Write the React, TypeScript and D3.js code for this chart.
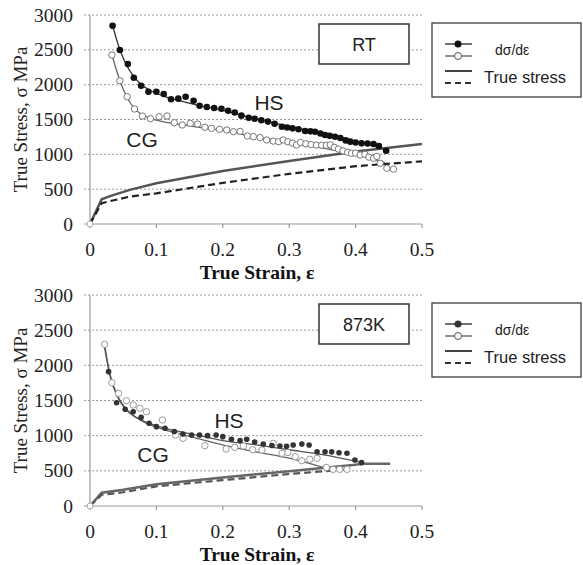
import React from "react";
import * as d3 from "d3";

// ---------- DATA ----------
const xTicks = [0, 0.1, 0.2, 0.3, 0.4, 0.5];
const yTicks = [0, 500, 1000, 1500, 2000, 2500, 3000];
const xTitle = "True Strain, ε";
const yTitle = "True Stress, σ MPa";
const legendLabels = ["dσ/dε", "True stress"];

// RT panel
const rtHsRate: [number, number][] = [
  [0.034, 2846], [0.045, 2497], [0.057, 2296], [0.066, 2100], [0.077, 1985], [0.088, 1899],
  [0.1, 1899], [0.111, 1866], [0.122, 1790], [0.133, 1799], [0.144, 1827], [0.156, 1770],
  [0.165, 1698], [0.176, 1679], [0.187, 1665], [0.198, 1655], [0.208, 1626], [0.218, 1600],
  [0.228, 1555], [0.239, 1526], [0.248, 1511], [0.258, 1490], [0.268, 1470], [0.278, 1440],
  [0.289, 1397], [0.297, 1385], [0.305, 1373], [0.314, 1360], [0.324, 1335], [0.332, 1330],
  [0.339, 1325], [0.347, 1300], [0.354, 1278], [0.361, 1265], [0.369, 1253], [0.377, 1235],
  [0.385, 1200], [0.392, 1182], [0.4, 1170], [0.409, 1158], [0.418, 1155], [0.427, 1148],
  [0.435, 1120], [0.446, 1052],
];
const rtCgRate: [number, number][] = [
  [0.033, 2426], [0.045, 2057], [0.056, 1827], [0.067, 1651], [0.079, 1550], [0.091, 1512],
  [0.104, 1540], [0.116, 1550], [0.127, 1454], [0.139, 1421], [0.151, 1445], [0.162, 1435],
  [0.173, 1388], [0.183, 1373], [0.195, 1359], [0.206, 1349], [0.216, 1325], [0.226, 1330],
  [0.237, 1263], [0.246, 1253], [0.256, 1240], [0.266, 1206], [0.276, 1190], [0.284, 1182],
  [0.291, 1206], [0.298, 1180], [0.305, 1160], [0.311, 1134], [0.317, 1170], [0.325, 1150],
  [0.333, 1140], [0.341, 1134], [0.349, 1130], [0.356, 1130], [0.362, 1136], [0.368, 1100],
  [0.374, 1076], [0.381, 1050], [0.388, 1030], [0.394, 1015], [0.4, 1017], [0.407, 990],
  [0.414, 1000], [0.42, 960], [0.427, 943], [0.432, 970], [0.437, 871], [0.447, 800],
  [0.457, 787],
];
const rtHsFit: [number, number][] = [
  [0.034, 2850], [0.045, 2500], [0.055, 2280], [0.065, 2130], [0.075, 2020], [0.09, 1920],
  [0.11, 1840], [0.13, 1780], [0.16, 1710], [0.2, 1630], [0.25, 1510], [0.3, 1400],
  [0.35, 1300], [0.4, 1190], [0.445, 1070],
];
const rtCgFit: [number, number][] = [
  [0.033, 2430], [0.045, 2060], [0.055, 1830], [0.065, 1680], [0.075, 1590], [0.09, 1520],
  [0.1, 1490], [0.15, 1410], [0.2, 1340], [0.25, 1250], [0.3, 1170], [0.35, 1090],
  [0.4, 1000], [0.444, 880],
];
const rtHsStress: [number, number][] = [
  [0, 0], [0.0176, 355], [0.03, 400], [0.06, 490], [0.1, 585], [0.2, 760], [0.3, 905],
  [0.4, 1040], [0.5, 1148],
];
const rtCgStress: [number, number][] = [
  [0, 0], [0.0176, 300], [0.06, 394], [0.1, 440], [0.2, 590], [0.3, 720], [0.4, 830],
  [0.5, 900],
];

// 873K panel
const hkHsRate: [number, number][] = [
  [0.028, 1910], [0.04, 1469], [0.053, 1375], [0.065, 1341], [0.077, 1260], [0.089, 1176],
  [0.1, 1128], [0.113, 1105], [0.127, 1060], [0.14, 1024], [0.153, 1010], [0.165, 1010],
  [0.177, 1000], [0.19, 1010], [0.2, 986], [0.213, 950], [0.226, 929], [0.236, 949],
  [0.248, 910], [0.261, 882], [0.274, 860], [0.286, 853], [0.296, 850], [0.306, 867],
  [0.319, 882], [0.33, 867], [0.342, 772], [0.354, 772], [0.364, 770], [0.375, 758],
  [0.387, 749], [0.399, 654], [0.409, 616],
];
const hkCgRate: [number, number][] = [
  [0.022, 2299], [0.033, 1754], [0.043, 1602], [0.055, 1497], [0.065, 1436], [0.075, 1389],
  [0.085, 1341], [0.109, 1223], [0.129, 1010], [0.14, 963], [0.173, 858], [0.205, 811],
  [0.218, 834], [0.231, 853], [0.245, 800], [0.259, 796], [0.276, 891], [0.289, 749],
  [0.298, 760], [0.309, 701], [0.319, 644], [0.331, 664], [0.342, 678], [0.356, 549],
  [0.366, 521], [0.376, 521], [0.387, 521],
];
const hkHsFit: [number, number][] = [
  [0.022, 2250], [0.03, 1850], [0.04, 1580], [0.05, 1420], [0.06, 1320], [0.08, 1210],
  [0.1, 1140], [0.15, 1030], [0.2, 930], [0.25, 870], [0.3, 800], [0.35, 730], [0.41, 616],
];
const hkCgFit: [number, number][] = [
  [0.022, 2300], [0.03, 1880], [0.04, 1600], [0.05, 1430], [0.06, 1330], [0.08, 1200],
  [0.1, 1120], [0.15, 990], [0.2, 870], [0.25, 770], [0.3, 680], [0.351, 549],
];
const hkHsStress: [number, number][] = [
  [0, 0], [0.0176, 190], [0.05, 230], [0.1, 310], [0.2, 405], [0.3, 495], [0.35, 540],
  [0.4, 585], [0.41, 600], [0.452, 600],
];
const hkCgStress: [number, number][] = [
  [0, 0], [0.0176, 160], [0.05, 195], [0.1, 280], [0.2, 368], [0.3, 455], [0.35, 492],
  [0.387, 520],
];

// ---------- CHART ----------
const SERIF = "'Liberation Serif', 'Times New Roman', serif";
const SANS = "'Liberation Sans', Arial, sans-serif";

type PanelProps = {
  top: number;
  bottom: number;
  label: string;
  hsRate: [number, number][];
  cgRate: [number, number][];
  hsFit: [number, number][];
  cgFit: [number, number][];
  hsStress: [number, number][];
  cgStress: [number, number][];
  hsPos: [number, number];
  cgPos: [number, number];
  dark: boolean;
};

function Panel(p: PanelProps) {
  const x = d3.scaleLinear().domain([0, 0.5]).range([90, 422]);
  const y = d3.scaleLinear().domain([0, 3000]).range([p.bottom, p.top]);
  const curve = d3.line<[number, number]>().x((d) => x(d[0])).y((d) => y(d[1])).curve(d3.curveMonotoneX);
  const lin = d3.line<[number, number]>().x((d) => x(d[0])).y((d) => y(d[1]));
  const fitHsColor = p.dark ? "#333" : "#555";
  const fitCgColor = "#666";
  const solidColor = p.dark ? "#555" : "#666";
  const dashColor = p.dark ? "#222" : "#555";
  const dotFill = p.dark ? "#111" : "#333";
  const openStroke = p.dark ? "#777" : "#999";
  const top = p.top;
  const legTop = top + 8;
  return (
    <g>
      {yTicks.filter((t) => t > 0).map((t) => (
        <line key={"g" + t} x1={84} x2={422} y1={y(t)} y2={y(t)} stroke="#999" strokeWidth={1} strokeDasharray="2,2" />
      ))}
      <line x1={90} x2={90} y1={top} y2={p.bottom} stroke="#999" strokeWidth={1.2} />
      <line x1={84} x2={422} y1={p.bottom} y2={p.bottom} stroke="#999" strokeWidth={1.2} />
      {xTicks.map((t) => (
        <line key={"xt" + t} x1={x(t)} x2={x(t)} y1={p.bottom} y2={p.bottom + 4} stroke="#999" strokeWidth={1.2} />
      ))}
      {yTicks.map((t) => (
        <text key={"yl" + t} x={73} y={y(t) + 6.5} textAnchor="end" fontFamily={SERIF} fontSize={19.5} fill="#222">
          {t}
        </text>
      ))}
      {xTicks.map((t) => (
        <text key={"xl" + t} x={x(t)} y={p.bottom + 32} textAnchor="middle" fontFamily={SERIF} fontSize={19.5} fill="#222">
          {t}
        </text>
      ))}
      <text
        transform={`translate(27,${(top + p.bottom) / 2}) rotate(-90)`}
        textAnchor="middle"
        fontFamily={SERIF}
        fontSize={19}
        fill="#222"
      >
        {yTitle}
      </text>
      <text x={257} y={p.bottom + 55} textAnchor="middle" fontFamily={SERIF} fontSize={19.5} fontWeight="bold" fill="#111">
        {xTitle}
      </text>

      {/* true stress */}
      <path d={lin(p.hsStress) ?? ""} fill="none" stroke={solidColor} strokeWidth={2.5} />
      <path d={lin(p.cgStress) ?? ""} fill="none" stroke={dashColor} strokeWidth={2.2} strokeDasharray="7,4" />
      <circle cx={x(0)} cy={y(0)} r={3} fill="#fff" stroke="#aaa" strokeWidth={1} />

      {/* fits */}
      <path d={curve(p.cgFit) ?? ""} fill="none" stroke={fitCgColor} strokeWidth={1.3} />
      <path d={curve(p.hsFit) ?? ""} fill="none" stroke={fitHsColor} strokeWidth={1.3} />

      {/* rates */}
      {p.cgRate.map((d, i) => (
        <circle key={"c" + i} cx={x(d[0])} cy={y(d[1])} r={3.2} fill="#fff" stroke={openStroke} strokeWidth={1} />
      ))}
      {p.hsRate.map((d, i) => (
        <circle key={"h" + i} cx={x(d[0])} cy={y(d[1])} r={p.dark ? 3.3 : 2.8} fill={dotFill} />
      ))}

      <text x={p.hsPos[0]} y={p.hsPos[1]} textAnchor="middle" fontFamily={SANS} fontSize={21} fill="#222">HS</text>
      <text x={p.cgPos[0]} y={p.cgPos[1]} textAnchor="middle" fontFamily={SANS} fontSize={21} fill="#222">CG</text>

      {/* label box */}
      <rect x={319} y={top + 9} width={90} height={40} fill="#fff" stroke="#333" strokeWidth={1.5} />
      <text x={364} y={top + 36} textAnchor="middle" fontFamily={SANS} fontSize={18} fill="#222">{p.label}</text>

      {/* legend */}
      <rect x={432} y={legTop} width={149} height={74} fill="#fff" stroke="#555" strokeWidth={1.5} />
      <line x1={445} x2={472} y1={legTop + 21} y2={legTop + 21} stroke="#222" strokeWidth={1.3} />
      <circle cx={458} cy={legTop + 21} r={3.5} fill={dotFill} />
      <line x1={445} x2={472} y1={legTop + 33} y2={legTop + 33} stroke="#555" strokeWidth={1.3} />
      <circle cx={458} cy={legTop + 33} r={3.5} fill="#fff" stroke="#555" strokeWidth={1} />
      <text x={495} y={legTop + 32} fontFamily={SANS} fontSize={14} fill="#222">{legendLabels[0]}</text>
      <line x1={445} x2={472} y1={legTop + 48} y2={legTop + 48} stroke="#444" strokeWidth={2} />
      <line x1={445} x2={472} y1={legTop + 60} y2={legTop + 60} stroke="#333" strokeWidth={2} strokeDasharray="6,4" />
      <text x={484} y={legTop + 60} fontFamily={SANS} fontSize={16.5} fill="#222">{legendLabels[1]}</text>
    </g>
  );
}

export default function App() {
  return (
    <svg
      width={583}
      height={565}
      style={{ position: "absolute", left: 0, top: 0, background: "#fff" }}
    >
      <Panel
        top={15}
        bottom={224}
        label="RT"
        hsRate={rtHsRate}
        cgRate={rtCgRate}
        hsFit={rtHsFit}
        cgFit={rtCgFit}
        hsStress={rtHsStress}
        cgStress={rtCgStress}
        hsPos={[269, 110]}
        cgPos={[142, 147]}
        dark={true}
      />
      <Panel
        top={295}
        bottom={506}
        label="873K"
        hsRate={hkHsRate}
        cgRate={hkCgRate}
        hsFit={hkHsFit}
        cgFit={hkCgFit}
        hsStress={hkHsStress}
        cgStress={hkCgStress}
        hsPos={[229, 428]}
        cgPos={[153, 462]}
        dark={false}
      />
    </svg>
  );
}
